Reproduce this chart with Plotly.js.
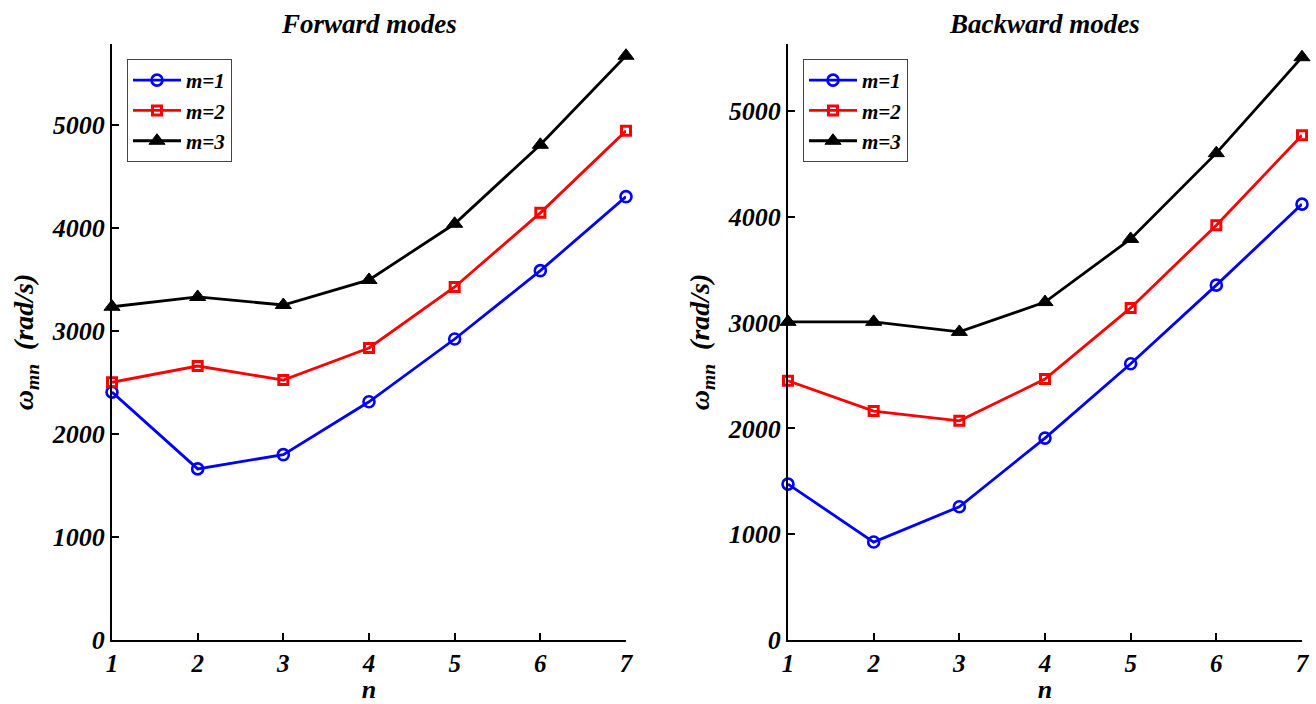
<!DOCTYPE html>
<html>
<head>
<meta charset="utf-8">
<script src="https://cdn.plot.ly/plotly-3.0.1.min.js"></script>
<style>html,body{margin:0;padding:0;background:#fff;}#chart{width:1316px;height:704px;}</style>
</head>
<body>
<div id="chart"></div>
<script>
const n = [1, 2, 3, 4, 5, 6, 7];
const forwardM1 = [2405, 1660, 1798, 2311, 2920, 3583, 4301];
const forwardM2 = [2500, 2658, 2522, 2833, 3425, 4144, 4940];
const forwardM3 = [3233, 3328, 3250, 3493, 4038, 4804, 5668];
const backwardM1 = [1474, 926, 1260, 1909, 2612, 3355, 4121];
const backwardM2 = [2450, 2164, 2072, 2467, 3140, 3922, 4773];
const backwardM3 = [3008, 3008, 2913, 3195, 3792, 4603, 5510];
const seriesNames = ['m=1', 'm=2', 'm=3'];
const titles = ['Forward modes', 'Backward modes'];

const FONT = 'Liberation Serif, Times New Roman, serif';
const styles = [
  {color: '#0000ff', symbol: 'circle-open', size: 11, lw: 2.6},
  {color: '#ff0000', symbol: 'square-open', size: 9, lw: 3},
  {color: '#000000', symbol: 'triangle-up', size: 14, lw: 1}
];
const bi = t => '<b><i>' + t + '</i></b>';

function mk(y, i, xa, ya) {
  const s = styles[i];
  return {
    x: n, y: y, type: 'scatter', mode: 'lines+markers', cliponaxis: false,
    name: bi(seriesNames[i]), xaxis: xa, yaxis: ya, showlegend: true,
    legend: (xa === 'x' ? 'legend' : 'legend2'),
    line: {color: s.color, width: 2.8},
    marker: {symbol: s.symbol, size: s.size, color: s.color, line: {color: s.color, width: s.lw}}
  };
}

const data = [
  mk(forwardM1, 0, 'x', 'y'), mk(forwardM2, 1, 'x', 'y'), mk(forwardM3, 2, 'x', 'y'),
  mk(backwardM1, 0, 'x2', 'y2'), mk(backwardM2, 1, 'x2', 'y2'), mk(backwardM3, 2, 'x2', 'y2')
];

const W = 1316, H = 704;
function xax(l, r, anchor) {
  return {
    domain: [l / W, r / W], anchor: anchor, range: [1, 7], tickvals: n,
    ticktext: n.map(v => bi(String(v))),
    showgrid: false, zeroline: false, showline: true, linecolor: '#000', linewidth: 2,
    ticks: 'inside', ticklen: 7, tickwidth: 2, tickcolor: '#000',
    tickfont: {family: FONT, size: 25, color: '#000'},
    title: {text: bi('n'), font: {family: FONT, size: 26, color: '#000'}, standoff: 6}
  };
}
const yTicks = [0, 1000, 2000, 3000, 4000, 5000];
function yax(top, anchor) {
  return {
    domain: [1 - 640 / H, 1 - 44 / H], anchor: anchor, range: [0, top],
    tickvals: yTicks, ticktext: yTicks.map(v => bi(String(v))),
    showgrid: false, zeroline: false, showline: true, linecolor: '#000', linewidth: 2,
    ticks: 'inside', ticklen: 7, tickwidth: 2, tickcolor: '#000',
    tickfont: {family: FONT, size: 26, color: '#000'},
    title: {text: bi('ω<sub>mn</sub>  (rad/s)'), font: {family: FONT, size: 28, color: '#000'}, standoff: 10}
  };
}

const legendBase = {
  bgcolor: '#fff', bordercolor: '#444', borderwidth: 1,
  font: {family: FONT, size: 21, color: '#000'},
  xanchor: 'left', yanchor: 'top', tracegroupgap: 0, itemwidth: 48
};

const layout = {
  width: W, height: H, paper_bgcolor: '#fff', plot_bgcolor: '#fff',
  margin: {l: 0, r: 0, t: 0, b: 0},
  showlegend: true,
  xaxis: xax(112, 626, 'y'), yaxis: yax(5782, 'x'),
  xaxis2: xax(788, 1302, 'y2'), yaxis2: yax(5635, 'x2'),
  legend: Object.assign({}, legendBase, {x: 127 / W, y: 1 - 59 / H}),
  legend2: Object.assign({}, legendBase, {x: 803 / W, y: 1 - 59 / H}),
  annotations: [
    {text: bi(titles[0]), xref: 'paper', yref: 'paper', x: 369 / W, y: 1 - 24 / H, showarrow: false,
     font: {family: FONT, size: 27, color: '#000'}, xanchor: 'center', yanchor: 'middle'},
    {text: bi(titles[1]), xref: 'paper', yref: 'paper', x: 1044 / W, y: 1 - 24 / H, showarrow: false,
     font: {family: FONT, size: 27, color: '#000'}, xanchor: 'center', yanchor: 'middle'}
  ]
};

Plotly.newPlot('chart', data, layout, {displayModeBar: false, staticPlot: true});
</script>
</body>
</html>
